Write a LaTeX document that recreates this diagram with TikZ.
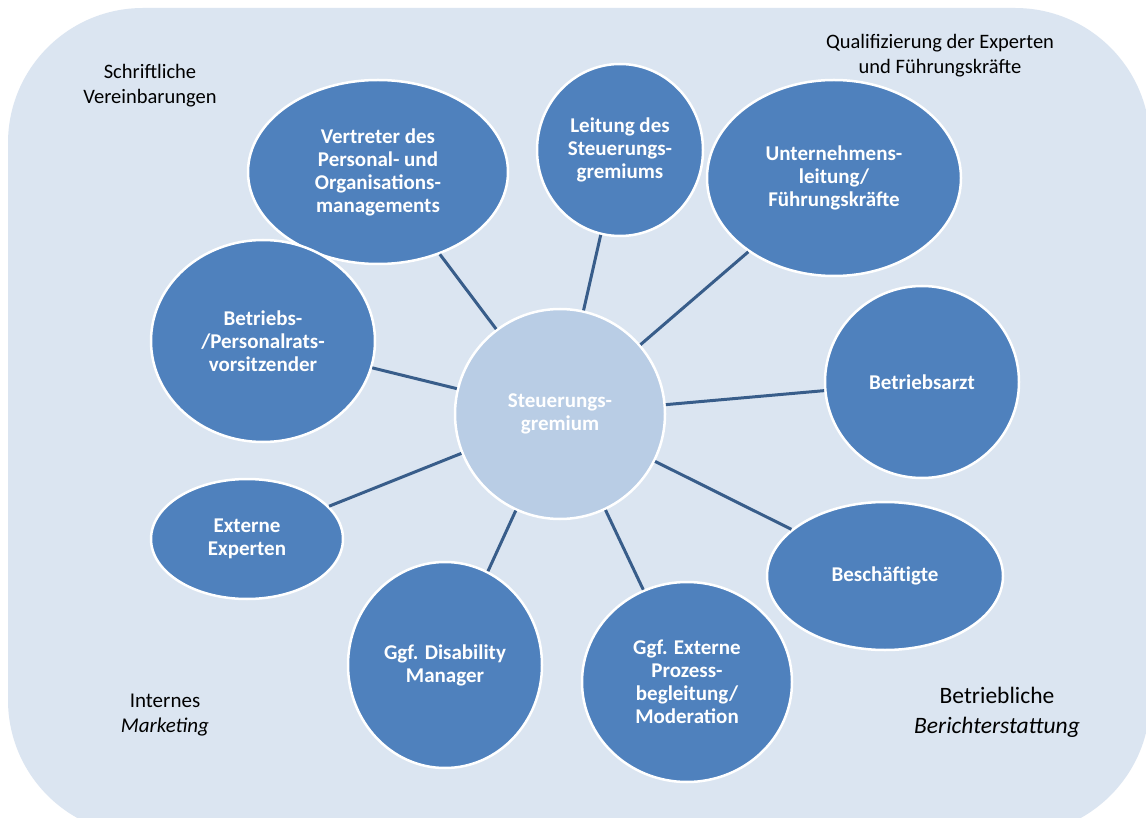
\documentclass[tikz,border=0pt]{standalone}
\usepackage{fontspec}
\setmainfont{Carlito}
\usetikzlibrary{shapes.geometric}
\definecolor{panelblue}{RGB}{219,229,241}
\definecolor{blobblue}{RGB}{79,129,189}
\definecolor{hubblue}{RGB}{185,205,229}
\definecolor{linkblue}{RGB}{56,93,138}

\begin{document}
\begin{tikzpicture}[x=1pt, y=-1pt,
  blob/.style={ellipse, draw=white, line width=2.5pt, fill=blobblue, text=white,
    inner sep=0pt, align=center, font=\bfseries\fontsize{21}{23}\selectfont},
  link/.style={draw=linkblue, line width=3pt},
  note/.style={align=center, text=black, font=\fontsize{20.5}{25}\selectfont}]
  \fill[white] (0,0) rectangle (1146,818);
  \clip (0,0) rectangle (1146,818);
  \fill[panelblue, rounded corners=135pt] (8,8) rectangle (1150,835);

  % central committee
  \node[blob, fill=hubblue, minimum width=210, minimum height=210] (hub) at (560,414) {Steuerungs-\\gremium};

  % members
  \node[blob, minimum width=260, minimum height=184] (vertr) at (378,172) {Vertreter des\\Personal- und\\Organisations-\\managements};
  \node[blob, minimum width=166, minimum height=172] (leit) at (620,150) {Leitung des\\Steuerungs-\\gremiums};
  \node[blob, minimum width=254, minimum height=196] (untern) at (834,178) {Unternehmens-\\leitung/\\Führungskräfte};
  \node[blob, minimum width=224, minimum height=202] (rat) at (263,341) {Betriebs-\\/Personalrats-\\vorsitzender};
  \node[blob, minimum width=194, minimum height=192] (arzt) at (922,382) {Betriebsarzt};
  \node[blob, minimum width=192, minimum height=120] (extexp) at (247,539) {Externe\\Experten};
  \node[blob, minimum width=194, minimum height=206] (disab) at (445,665) {Ggf. Disability\\Manager};
  \node[blob, minimum width=210, minimum height=200] (prozess) at (687,682) {Ggf. Externe\\Prozess-\\begleitung/\\Moderation};
  \node[blob, minimum width=236, minimum height=148] (besch) at (885,576) {Beschäftigte};

  \foreach \n in {vertr, leit, untern, rat, arzt, extexp, disab, prozess, besch}
    \draw[link] (hub) -- (\n);

  % corner notes
  \node[note] (schrift) at (150,86) {Schriftliche\\Vereinbarungen};
  \node[note] (quali) at (940,56) {Qualifizierung der Experten\\und Führungskräfte};
  \node[note, font=\fontsize{21}{25}\selectfont] (marketing) at (165,715) {Internes\\\itshape Marketing};
  \node[note, font=\fontsize{23.5}{30}\selectfont] (bericht) at (997,712) {Betriebliche\\\itshape Berichterstattung};
\end{tikzpicture}
\end{document}
